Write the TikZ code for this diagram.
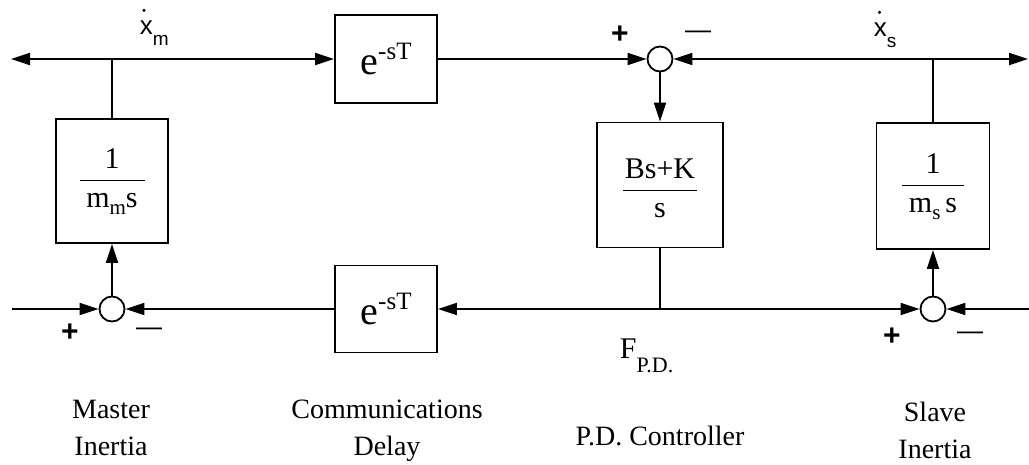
\documentclass[tikz,border=0pt]{standalone}
\usepackage{fontspec}
\setmainfont{Liberation Serif}
\newfontfamily\sfont{Liberation Sans}
\usetikzlibrary{arrows.meta}
\newcommand{\fr}[4]{$\vcenter{\kern#4\hbox to #3{\hss\strut #1\hss}\kern1pt\hrule height 1.8pt\kern2pt\hbox to #3{\hss\strut #2\hss}}$}
\newcommand{\sigx}[1]{x\raisebox{-11pt}{\fontsize{19}{19}\selectfont #1}}
\newcommand{\edelay}{e\raisebox{15pt}{\fontsize{25}{25}\selectfont -sT}}
\begin{document}
\begin{tikzpicture}[x=1pt,y=-1pt,line width=1.8pt,
  blk/.style={draw,line width=1.8pt,inner sep=0pt,font=\fontsize{30}{34}\selectfont},
  dly/.style={blk,minimum width=102pt,font=\fontsize{40}{44}\selectfont},
  sumc/.style={draw,circle,line width=1.8pt,minimum size=25pt,inner sep=0pt},
  arr/.style={-{Triangle[length=19pt,width=12pt]}},
  sgnp/.style={font=\sfont\bfseries\fontsize{30}{30}\selectfont,inner sep=0pt},
  sgnm/.style={font=\sfont\fontsize{26}{26}\selectfont,inner sep=0pt},
  lab/.style={font=\fontsize{28}{37}\selectfont,align=center,inner sep=0pt},
  sig/.style={font=\sfont\fontsize{26}{26}\selectfont,inner sep=0pt,anchor=base west}]
\fill[white] (0,0) rectangle (1029,465);
\useasboundingbox (0,0) rectangle (1029,465);
% blocks
\node[dly,minimum height=88pt] (dtop) at (386,59) {\edelay};
\node[dly,minimum height=87pt] (dbot) at (386,309) {\edelay};
\node[blk,minimum width=112pt,minimum height=124pt] (mbox) at (112,181) {\fr{1}{m\raisebox{-7pt}{\fontsize{21}{21}\selectfont m}s}{65pt}{0pt}};
\node[blk,minimum width=126pt,minimum height=125pt] (pd) at (660,185) {\fr{Bs+K}{s}{74pt}{12pt}};
\node[blk,minimum width=113pt,minimum height=126pt] (sbox) at (933,186) {\fr{1}{m\raisebox{-7pt}{\fontsize{21}{21}\selectfont s}\,s}{62pt}{0pt}};
% summing junctions
\node[sumc] (msum) at (112,309) {};
\node[sumc] (tsum) at (660,59) {};
\node[sumc] (ssum) at (933,309) {};
% branch points and free ends
\coordinate (jm) at (112,59);
\coordinate (js) at (933,59);
\coordinate (jp) at (660,309);
\coordinate (lend) at (11,59);
\coordinate (rend) at (1028,59);
\coordinate (lin) at (12,309);
\coordinate (rin) at (1029,309);
% connectors
\draw[arr] (jm) -- (lend);
\draw[arr] (jm) -- (dtop.west);
\draw (jm) -- (mbox.north);
\draw[arr] (dtop.east) -- (tsum.west);
\draw[arr] (js) -- (tsum.east);
\draw[arr] (js) -- (rend);
\draw (js) -- (sbox.north);
\draw[arr] (tsum.south) -- (pd.north);
\draw (pd.south) -- (jp);
\draw[arr] (jp) -- (dbot.east);
\draw[arr] (jp) -- (ssum.west);
\draw[arr] (rin) -- (ssum.east);
\draw[arr] (ssum.north) -- (sbox.south);
\draw[arr] (dbot.west) -- (msum.east);
\draw[arr] (lin) -- (msum.west);
\draw[arr] (msum.north) -- (mbox.south);
% signals
\node[sig] (xm) at (139,35) {\sigx{m}};
\fill ([xshift=5pt,yshift=10pt]xm.north west) circle (1.8pt);
\node[sig] (xs) at (873,37) {\sigx{s}};
\fill ([xshift=6.5pt,yshift=10pt]xs.north west) circle (1.8pt);
\node[anchor=base west,inner sep=0pt,font=\fontsize{30}{30}\selectfont] (fpd) at (619,359) {F\raisebox{-14pt}{\fontsize{22}{22}\selectfont P.D.}};
% signs
\node[sgnp] (mp) at (70,333) {+};
\node[sgnm] (mm) at (149,332) {—};
\node[sgnp] (tp) at (620,35) {+};
\node[sgnm] (tm) at (698,35) {—};
\node[sgnp] (sp) at (892,337) {+};
\node[sgnm] (sm) at (970,336) {—};
% captions
\node[lab,anchor=base] (cm) at (111,455) {Master\\Inertia};
\node[lab,anchor=base] (cd) at (387,455) {Communications\\Delay};
\node[lab,anchor=base] (cp) at (660,445) {P.D. Controller};
\node[lab,anchor=base] (cs) at (935,458) {Slave\\Inertia};
\end{tikzpicture}
\end{document}
